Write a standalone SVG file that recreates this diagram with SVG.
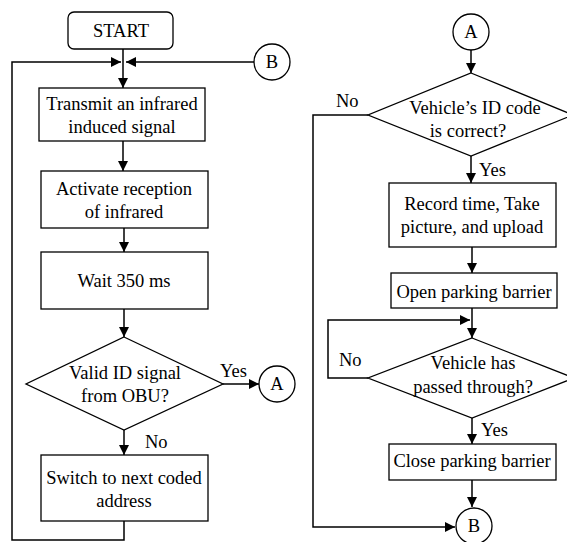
<svg xmlns="http://www.w3.org/2000/svg" width="567" height="542" viewBox="0 0 567 542">
  <style>
    .box { fill: #fff; stroke: #000; stroke-width: 1.3; }
    .line { fill: none; stroke: #000; stroke-width: 1.5; }
    .t { font-family: 'Liberation Serif', 'DejaVu Serif', 'Times New Roman', serif; font-size: 18.5px; fill: #000; }
    .c { text-anchor: middle; }
  </style>
  <defs>
    <marker id="arrow" viewBox="0 0 10 10" refX="10" refY="5" markerWidth="10" markerHeight="10" markerUnits="userSpaceOnUse" orient="auto">
      <path d="M0,0 L10,5 L0,10 Z" fill="#000"/>
    </marker>
  </defs>

  <rect width="567" height="542" fill="#fff"/>

  <g id="connectors">
    <!-- left column flow -->
    <path class="line" d="M123,49 V88" marker-end="url(#arrow)"/>
    <path class="line" d="M124,521 V540 H12 V62 H121" marker-end="url(#arrow)"/>
    <path class="line" d="M254,62 H126" marker-end="url(#arrow)"/>
    <path class="line" d="M123,141 V171" marker-end="url(#arrow)"/>
    <path class="line" d="M124,228 V252" marker-end="url(#arrow)"/>
    <path class="line" d="M124,309 V337" marker-end="url(#arrow)"/>
    <path class="line" d="M223,384 H259" marker-end="url(#arrow)"/>
    <path class="line" d="M124,430 V455" marker-end="url(#arrow)"/>
    <!-- right column flow -->
    <path class="line" d="M471,50 V73" marker-end="url(#arrow)"/>
    <path class="line" d="M471,156 V183" marker-end="url(#arrow)"/>
    <path class="line" d="M472,247 V273" marker-end="url(#arrow)"/>
    <path class="line" d="M472,308 V338" marker-end="url(#arrow)"/>
    <path class="line" d="M368,378 H328 V320 H470" marker-end="url(#arrow)"/>
    <path class="line" d="M472,418 V444" marker-end="url(#arrow)"/>
    <path class="line" d="M472,480 V507" marker-end="url(#arrow)"/>
    <path class="line" d="M368,115 H313 V527 H455" marker-end="url(#arrow)"/>
  </g>

  <g id="start">
    <rect class="box" x="68" y="12" width="105" height="37" rx="6"/>
    <text class="t c" x="121" y="37" font-size="16">START</text>
  </g>

  <g id="connector-b-top">
    <circle class="box" cx="272" cy="62" r="18"/>
    <text class="t c" x="272" y="68">B</text>
  </g>

  <g id="transmit">
    <rect class="box" x="39" y="88" width="166" height="53"/>
    <text class="t c" x="122" y="110">Transmit an infrared</text>
    <text class="t c" x="122" y="133">induced signal</text>
  </g>

  <g id="activate">
    <rect class="box" x="41" y="171" width="167" height="57"/>
    <text class="t c" x="124" y="195">Activate reception</text>
    <text class="t c" x="124" y="218">of infrared</text>
  </g>

  <g id="wait">
    <rect class="box" x="41" y="252" width="167" height="57"/>
    <text class="t c" x="124" y="287">Wait 350 ms</text>
  </g>

  <g id="valid-id">
    <polygon class="box" points="124,337 223,384 124,430 26,384"/>
    <text class="t c" x="125" y="379">Valid ID signal</text>
    <text class="t c" x="125" y="402">from OBU?</text>
    <text class="t" x="220" y="377">Yes</text>
    <text class="t" x="145" y="448">No</text>
  </g>

  <g id="connector-a-left">
    <circle class="box" cx="277" cy="384" r="18"/>
    <text class="t c" x="277" y="390">A</text>
  </g>

  <g id="switch">
    <rect class="box" x="41" y="455" width="167" height="66"/>
    <text class="t c" x="124" y="484">Switch to next coded</text>
    <text class="t c" x="124" y="507">address</text>
  </g>

  <g id="connector-a-right">
    <circle class="box" cx="471" cy="32" r="18"/>
    <text class="t c" x="471" y="38">A</text>
  </g>

  <g id="id-correct">
    <polygon class="box" points="471,73 573,115 471,156 368,115"/>
    <text class="t c" x="475" y="114">Vehicle’s ID code</text>
    <text class="t c" x="468" y="137">is correct?</text>
    <text class="t" x="336" y="107">No</text>
    <text class="t" x="479" y="176">Yes</text>
  </g>

  <g id="record">
    <rect class="box" x="389" y="183" width="167" height="64"/>
    <text class="t c" x="472" y="210">Record time, Take</text>
    <text class="t c" x="472" y="233">picture, and upload</text>
  </g>

  <g id="open-barrier">
    <rect class="box" x="391" y="273" width="166" height="35"/>
    <text class="t c" x="474" y="298">Open parking barrier</text>
  </g>

  <g id="passed">
    <polygon class="box" points="472,338 574,378 472,418 368,378"/>
    <text class="t c" x="473" y="369">Vehicle has</text>
    <text class="t c" x="473" y="393">passed through?</text>
    <text class="t" x="339" y="366">No</text>
    <text class="t" x="481" y="436">Yes</text>
  </g>

  <g id="close-barrier">
    <rect class="box" x="389" y="444" width="167" height="36"/>
    <text class="t c" x="472" y="467">Close parking barrier</text>
  </g>

  <g id="connector-b-bottom">
    <circle class="box" cx="474" cy="526" r="18"/>
    <text class="t c" x="474" y="532">B</text>
  </g>
</svg>
